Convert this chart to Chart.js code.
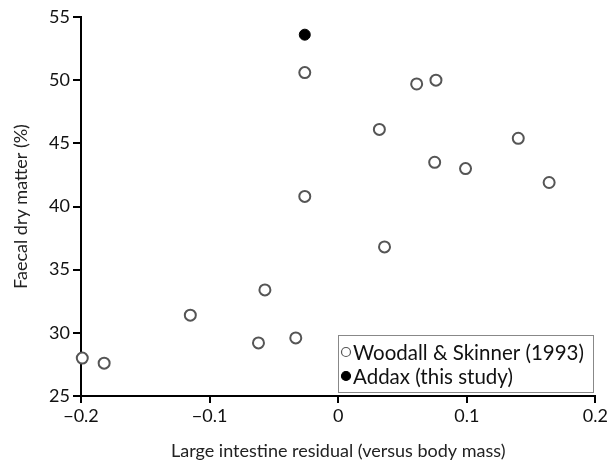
<!DOCTYPE html>
<html>
<head>
<meta charset="utf-8">
<script src="https://cdn.jsdelivr.net/npm/chart.js@4/dist/chart.umd.min.js"></script>
<style>
  html, body { margin: 0; padding: 0; background: #fff; }
  #wrap { width: 610px; height: 462px; }
</style>
</head>
<body>
<div id="wrap"><canvas id="c" width="610" height="462"></canvas></div>
<script>
// Woodall & Skinner (1993)
const woodallX = [-0.026, 0.061, 0.076, 0.032, 0.140, 0.075, 0.099, 0.164, -0.026, 0.036,
  -0.057, -0.115, -0.062, -0.033, -0.199, -0.182];
const woodallY = [50.6, 49.7, 50.0, 46.1, 45.4, 43.5, 43.0, 41.9, 40.8, 36.8,
  33.4, 31.4, 29.2, 29.6, 28.0, 27.6];
// Addax (this study)
const addaxX = [-0.026];
const addaxY = [53.6];

const xTicks = [-0.2, -0.1, 0, 0.1, 0.2];
const yTicks = [25, 30, 35, 40, 45, 50, 55];

const FONT = "Lato, 'Open Sans', sans-serif";

const toPoints = (xs, ys) => xs.map((x, i) => ({ x: x, y: ys[i] }));

// boxed legend in the lower right corner of the plot
const boxLegend = {
  id: 'boxLegend',
  afterDraw(chart) {
    const ctx = chart.ctx;
    const x0 = 338, y0 = 335, w = 255, h = 57;
    ctx.save();
    ctx.fillStyle = '#fff';
    ctx.fillRect(x0, y0, w, h);
    ctx.strokeStyle = '#888';
    ctx.lineWidth = 1;
    ctx.strokeRect(x0 + 0.5, y0 + 0.5, w, h);
    ctx.font = '20.5px ' + FONT;
    ctx.textBaseline = 'middle';
    chart.data.datasets.forEach((ds, i) => {
      const cy = y0 + 17 + i * 24;
      ctx.beginPath();
      ctx.arc(x0 + 8, cy, 4.5, 0, Math.PI * 2);
      ctx.fillStyle = ds.backgroundColor;
      ctx.fill();
      ctx.lineWidth = 1.2;
      ctx.strokeStyle = ds.borderColor;
      ctx.stroke();
      ctx.fillStyle = '#111';
      ctx.fillText(ds.label, x0 + 15, cy + 1);
    });
    ctx.restore();
  }
};

new Chart(document.getElementById('c'), {
  type: 'scatter',
  data: {
    datasets: [
      {
        label: 'Woodall & Skinner (1993)',
        data: toPoints(woodallX, woodallY),
        pointRadius: 5.5,
        borderWidth: 2,
        borderColor: '#555',
        backgroundColor: '#fff',
        clip: false
      },
      {
        label: 'Addax (this study)',
        data: toPoints(addaxX, addaxY),
        pointRadius: 5.5,
        borderWidth: 1,
        borderColor: '#000',
        backgroundColor: '#000',
        clip: false
      }
    ]
  },
  options: {
    responsive: false,
    animation: false,
    layout: { padding: { top: 17, right: 14, left: 0, bottom: 0 } },
    plugins: {
      legend: { display: false },
      tooltip: { enabled: false }
    },
    scales: {
      x: {
        type: 'linear',
        min: -0.2,
        max: 0.2,
        afterBuildTicks: (s) => { s.ticks = xTicks.map(v => ({ value: v })); },
        afterFit: (s) => { s.height = 66; },
        border: { color: '#000', width: 2 },
        grid: { drawOnChartArea: false, color: '#000', lineWidth: 2, tickLength: 7 },
        ticks: {
          color: '#111',
          font: { family: FONT, size: 18 },
          padding: 2,
          maxRotation: 0,
          callback: (v) => String(v).replace('-', '\u2212')
        },
        title: {
          display: true,
          text: 'Large intestine residual (versus body mass)',
          color: '#222',
          font: { family: FONT, size: 18 },
          padding: { top: 10, bottom: 0 }
        }
      },
      y: {
        min: 25,
        max: 55,
        afterBuildTicks: (s) => { s.ticks = yTicks.map(v => ({ value: v })); },
        afterFit: (s) => { s.width = 81; },
        border: { color: '#000', width: 2 },
        grid: { drawOnChartArea: false, color: '#000', lineWidth: 2, tickLength: 8 },
        ticks: {
          color: '#111',
          font: { family: FONT, size: 18 },
          padding: 3
        },
        title: {
          display: true,
          text: 'Faecal dry matter (%)',
          color: '#222',
          font: { family: FONT, size: 18 },
          padding: { top: 10, bottom: 0 }
        }
      }
    }
  },
  plugins: [boxLegend]
});
</script>
</body>
</html>
